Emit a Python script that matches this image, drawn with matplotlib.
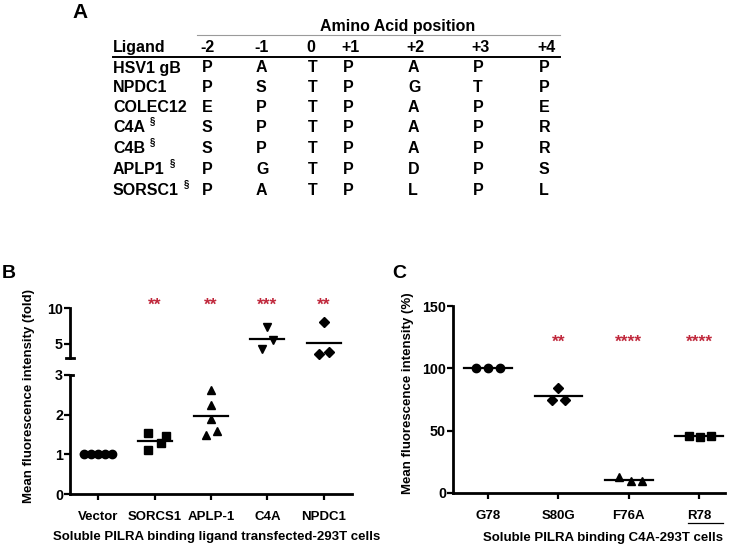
"""Figure: PILRA ligand motif table (A) and binding scatter plots (B, C)."""

import matplotlib

matplotlib.use("Agg")
import matplotlib.pyplot as plt
import numpy as np

plt.rcParams["font.family"] = ["Liberation Sans", "DejaVu Sans"]
plt.rcParams["font.weight"] = "bold"

W, H = 738, 547
STAR_RED = "#c0283c"

# ---- panel A: motif table ----
positions = ["-2", "-1", "0", "+1", "+2", "+3", "+4"]
ligands = ["HSV1 gB", "NPDC1", "COLEC12", "C4A", "C4B", "APLP1", "SORSC1"]
ligand_mark = [False, False, False, True, True, True, True]
residues = ["PATPAPP", "PSTPGTP", "EPTPAPE", "SPTPAPR", "SPTPAPR", "PGTPDPS", "PATPLPL"]

# ---- panel B: fold binding, ligand-transfected cells ----
b_groups = ["Vector", "SORCS1", "APLP-1", "C4A", "NPDC1"]
b_values = [
    [1.0, 1.0, 1.0, 1.0, 1.0],
    [1.1, 1.53, 1.28, 1.45],
    [2.62, 2.24, 1.9, 1.48, 1.6],
    [7.4, 5.55, 4.2],
    [8.1, 3.5, 3.9],
]
b_jitter = [
    [-0.25, -0.12, 0.0, 0.12, 0.25],
    [-0.11, -0.11, 0.11, 0.2],
    [0.0, 0.0, 0.0, -0.09, 0.1],
    [0.0, 0.1, -0.09],
    [0.0, -0.09, 0.1],
]
b_markers = ["o", "s", "^", "v", "D"]
b_stars = ["", "**", "**", "***", "**"]

# ---- panel C: % binding, C4A mutants ----
c_groups = ["G78", "S80G", "F76A", "R78"]
c_values = [[100, 100, 100], [84, 74.5, 74.5], [13, 9.5, 9.5], [46, 45, 45.5]]
c_jitter = [[-0.17, 0.0, 0.17], [0.0, -0.09, 0.09], [-0.14, 0.03, 0.19], [-0.14, 0.01, 0.17]]
c_markers = ["o", "D", "^", "s"]
c_stars = ["", "**", "****", "****"]


def fx(px):
    return px / W


def fy(py):
    return 1 - py / H


def rect(x0, y_top, x1, y_bot):
    return [fx(x0), fy(y_bot), fx(x1) - fx(x0), fy(y_top) - fy(y_bot)]


def style_axis(ax):
    for s in ("top", "right"):
        ax.spines[s].set_visible(False)
    for s in ("left", "bottom"):
        ax.spines[s].set_linewidth(2)
    ax.tick_params(width=1.6, length=4, pad=1)
    ax.tick_params(axis="y", labelsize=10.3)
    ax.tick_params(axis="x", labelsize=9.5, pad=8)
    for lab in ax.get_xticklabels() + ax.get_yticklabels():
        lab.set_fontweight("bold")


def draw_group(ax, i, vals, jit, marker, half=0.3, ms=6):
    ax.plot(i + np.array(jit), vals, ls="none", marker=marker, color="black",
            ms=ms if marker != "D" else ms - 1, clip_on=False, zorder=3)
    mean = np.mean(vals)
    ax.plot([i - half, i + half], [mean, mean], color="black", lw=1.6,
            clip_on=False, zorder=2)


fig = plt.figure(figsize=(W / 100, H / 100), dpi=100)

# ---------------- A ----------------
fig.text(fx(72), fy(13), "A", fontsize=15, fontweight="bold", va="center")
fig.text(fx(398), fy(27), "Amino Acid position", fontsize=11.5,
         fontweight="bold", ha="center", va="center")
fig.add_artist(plt.Line2D([fx(197), fx(560)], [fy(35), fy(35)], color="#9a9a9a", lw=0.8))
fig.add_artist(plt.Line2D([fx(113), fx(560)], [fy(57), fy(57)], color="black", lw=1.4))
col_x = [200, 254, 306, 341, 406, 471, 537]
row_y = [68, 87, 107, 127, 148, 169, 190]
fig.text(fx(113), fy(48), "Ligand", fontsize=11.5, fontweight="bold", va="center")
for cx, p in zip(col_x, positions):
    fig.text(fx(cx), fy(48), p, fontsize=11.5, fontweight="bold", va="center")
for ry, lig, mk, res in zip(row_y, ligands, ligand_mark, residues):
    t = fig.text(fx(113), fy(ry), lig, fontsize=11.5, fontweight="bold", va="center")
    if mk:
        fig.canvas.draw()
        bb = t.get_window_extent()
        fig.text(fx(bb.x1 + 5), fy(ry - 6), "§", fontsize=7, fontweight="bold",
                 va="center")
    for cx, r in zip(col_x, res):
        fig.text(fx(cx + 2), fy(ry), r, fontsize=11.5, fontweight="bold", va="center")

# ---------------- B (broken y axis) ----------------
fig.text(fx(2), fy(273), "B", fontsize=14, fontweight="bold", va="center")
ax_lo = fig.add_axes(rect(70, 375, 352, 494))
ax_hi = fig.add_axes(rect(70, 308, 352, 358))
for ax in (ax_lo, ax_hi):
    ax.set_xlim(-0.5, 4.5)
    ax.patch.set_alpha(0)
ax_lo.set_ylim(0, 3)
ax_hi.set_ylim(3, 10)

for i, (vals, jit, m) in enumerate(zip(b_values, b_jitter, b_markers)):
    target = ax_lo if np.mean(vals) <= 3 else ax_hi
    draw_group(target, i, vals, jit, m, half=0.3)

ax_lo.set_xticks(range(len(b_groups)))
ax_lo.set_xticklabels(b_groups)
ax_lo.set_yticks([0, 1, 2, 3])
ax_hi.set_yticks([5, 10])
ax_hi.set_xticks([])
ax_hi.spines["bottom"].set_visible(False)
style_axis(ax_lo)
style_axis(ax_hi)
# break caps
ax_hi.plot([-0.013, 0.013], [0, 0], transform=ax_hi.transAxes, color="black",
           lw=2, clip_on=False)
ax_lo.plot([0, 0.012], [1, 1], transform=ax_lo.transAxes, color="black",
           lw=2, clip_on=False)
for i, s in enumerate(b_stars):
    if s:
        ax_hi.text(i, 9.35, s, color=STAR_RED, fontsize=12.5, fontweight="bold",
                   ha="center", va="bottom")
fig.text(fx(29), fy(396), "Mean fluorescence intensity (fold)", rotation=90,
         fontsize=9.5, fontweight="bold", ha="center", va="center")
fig.text(fx(217), fy(537), "Soluble PILRA binding ligand transfected-293T cells",
         fontsize=9.5, fontweight="bold", ha="center", va="center")

# ---------------- C ----------------
fig.text(fx(392), fy(273), "C", fontsize=14, fontweight="bold", va="center")
ax_c = fig.add_axes(rect(453, 306, 725, 493))
ax_c.patch.set_alpha(0)
ax_c.set_xlim(-0.5, 3.37)
ax_c.set_ylim(0, 150)
for i, (vals, jit, m) in enumerate(zip(c_values, c_jitter, c_markers)):
    draw_group(ax_c, i, vals, jit, m, half=0.34)
ax_c.set_xticks(range(len(c_groups)))
ax_c.set_xticklabels(c_groups)
ax_c.set_yticks([0, 50, 100, 150])
style_axis(ax_c)
for i, s in enumerate(c_stars):
    if s:
        ax_c.text(i, 114.5, s, color=STAR_RED, fontsize=12.5, fontweight="bold",
                  ha="center", va="bottom")
ax_c.plot([2.84, 3.34], [-0.16, -0.16], transform=ax_c.get_xaxis_transform(),
          color="black", lw=0.9, clip_on=False)
fig.text(fx(408), fy(393), "Mean fluorescence intensity (%)", rotation=90,
         fontsize=9.5, fontweight="bold", ha="center", va="center")
fig.text(fx(603), fy(538), "Soluble PILRA binding C4A-293T cells",
         fontsize=9.5, fontweight="bold", ha="center", va="center")

fig.savefig("out.png", dpi=100)
